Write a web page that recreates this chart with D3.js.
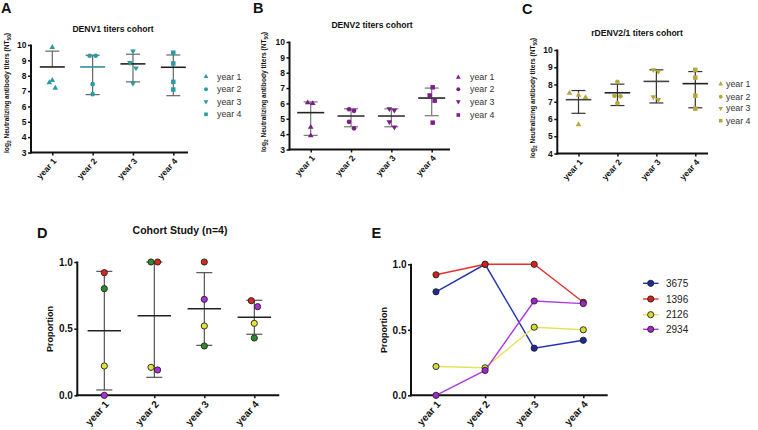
<!DOCTYPE html>
<html><head><meta charset="utf-8">
<script src="https://cdn.jsdelivr.net/npm/d3@7"></script>
<style>
html,body{margin:0;padding:0;background:#fff;}
svg{display:block;font-family:"Liberation Sans",Arial,Helvetica,sans-serif;}
</style></head>
<body><svg id="chart" width="758" height="430"></svg>
<script>
// ---------- data ----------
const years = ["year 1","year 2","year 3","year 4"];
const legendLabels = ["year 1","year 2","year 3","year 4"];

// Panel A: DENV1 (log2 NT50), points per year
const denv1Values = [[9.85,7.7,7.55,7.2],[9.3,9.3,7.45,6.8],[9.6,8.85,8.5,7.5],[9.5,8.8,7.6,7.1]];
const denv1Mean  = [8.57,8.57,8.77,8.55];
const denv1Upper = [9.6,9.33,9.4,9.35];
const denv1Lower = [8.57,6.77,7.6,6.7];

// Panel B: DENV2
const denv2Values = [[6.05,6.0,4.45,3.9],[5.62,5.52,4.8,4.38],[5.65,5.55,4.8,4.45],[7.05,6.52,6.18,4.75]];
const denv2Mean  = [5.4,5.18,5.18,6.35];
const denv2Upper = [6.1,5.65,5.65,7.0];
const denv2Lower = [3.92,4.48,4.48,5.2];

// Panel C: rDENV2/1
const rdenvValues = [[7.5,7.38,7.25,5.68],[8.15,7.35,7.32,6.92],[8.85,8.75,7.28,7.12],[8.85,8.4,7.35,6.6]];
const rdenvMean  = [7.12,7.52,8.18,8.05];
const rdenvUpper = [7.65,8.02,8.85,8.75];
const rdenvLower = [6.33,6.78,6.93,6.65];

// Panel D: cohort study proportions (per subject)
const subjects = ["3675","1396","2126","2934"];
const dProp3675 = [0.80,1.0,0.37,0.43];
const dProp1396 = [0.92,1.0,1.0,0.71];
const dProp2126 = [0.22,0.21,0.52,0.54];
const dProp2934 = [0.0,0.19,0.72,0.665];
const dMean  = [0.485,0.597,0.65,0.585];
const dUpper = [0.93,1.0,0.92,0.713];
const dLower = [0.04,0.135,0.375,0.458];

// Panel E: proportions by subject
const eProp3675 = [0.79,1.0,0.36,0.42];
const eProp1396 = [0.92,1.0,1.0,0.71];
const eProp2126 = [0.22,0.21,0.52,0.50];
const eProp2934 = [0.0,0.19,0.72,0.70];

// ---------- drawing ----------
const svg = d3.select("#chart");
const FONT = '"Liberation Sans",Arial,Helvetica,sans-serif';

function panelLetter(t,x,y){
  svg.append("text").attr("x",x).attr("y",y).attr("font-size",14.5).attr("font-weight","bold").attr("fill","#111").text(t);
}

const symbols = [
  {type:d3.symbolTriangle, rot:0, size:14, lsize:10},
  {type:d3.symbolCircle, rot:0, size:17, lsize:12},
  {type:d3.symbolTriangle, rot:180, size:14, lsize:10},
  {type:d3.symbolSquare, rot:0, size:20, lsize:13}
];

function yTitleLog(x, cy){
  const t = svg.append("text").attr("transform",`translate(${x},${cy}) rotate(-90)`)
    .attr("text-anchor","middle").attr("font-size",7).attr("font-weight","bold").attr("fill","#111")
    .attr("textLength",120).attr("lengthAdjust","spacingAndGlyphs");
  t.append("tspan").text("log");
  t.append("tspan").attr("font-size",5).attr("dy",2).text("2");
  t.append("tspan").attr("dy",-2).text(" Neutralizing antibody titers (NT");
  t.append("tspan").attr("font-size",5).attr("dy",2).text("50");
  t.append("tspan").attr("dy",-2).text(")");
}

function drawAxes(g, cfg, x, y, yTicks, yFmt, yFont, xFont){
  const ya = d3.axisLeft(y).tickValues(yTicks).tickSize(3).tickPadding(1.5).tickFormat(yFmt);
  const yg = g.append("g").attr("transform",`translate(${cfg.x0},0)`).call(ya);
  yg.select(".domain").remove();
  yg.selectAll(".tick line").attr("stroke","#111").attr("stroke-width",1.5);
  yg.selectAll(".tick text").attr("font-size",yFont).attr("font-weight","bold").attr("fill","#111").attr("font-family",FONT);
  g.append("line").attr("x1",cfg.x0).attr("x2",cfg.x0).attr("y1",y.range()[1]-0.5).attr("y2",y.range()[0]+1)
    .attr("stroke","#111").attr("stroke-width",2);
  g.append("line").attr("x1",cfg.x0-1).attr("x2",cfg.x1).attr("y1",y.range()[0]).attr("y2",y.range()[0])
    .attr("stroke","#111").attr("stroke-width",2);
  const xa = d3.axisBottom(x).tickSize(3).tickSizeOuter(0).tickFormat("");
  const xg = g.append("g").attr("transform",`translate(0,${y.range()[0]})`).call(xa);
  xg.select(".domain").remove();
  xg.selectAll(".tick line").attr("stroke","#111").attr("stroke-width",1.5);
  years.forEach(d=>{
    g.append("text").attr("transform",`translate(${x(d)+2.5},${y.range()[0]+7}) rotate(-48)`)
      .attr("text-anchor","end").attr("dy","0.35em").attr("font-size",xFont).attr("font-weight","bold").attr("fill","#111").text(d);
  });
}

function drawScatter(cfg){
  const g = svg.append("g");
  const x = d3.scalePoint().domain(years).range([cfg.c0,cfg.c1]);
  const y = d3.scaleLinear().domain(cfg.yDomain).range([cfg.yb,cfg.yt]);
  drawAxes(g,cfg,x,y,d3.range(cfg.yDomain[0],cfg.yDomain[1]+1),d3.format("d"),8.5,8.5);
  years.forEach((yr,i)=>{
    const cx = x(yr);
    g.append("line").attr("x1",cx).attr("x2",cx).attr("y1",y(cfg.upper[i])).attr("y2",y(cfg.lower[i]))
      .attr("stroke",cfg.whisker).attr("stroke-width",1.2);
    [cfg.upper[i],cfg.lower[i]].forEach(v=>{
      if (v===cfg.mean[i]) return;
      g.append("line").attr("x1",cx-cfg.capW).attr("x2",cx+cfg.capW).attr("y1",y(v)).attr("y2",y(v))
        .attr("stroke",cfg.whisker).attr("stroke-width",1.2);
    });
    g.append("line").attr("x1",cx-cfg.meanW).attr("x2",cx+cfg.meanW).attr("y1",y(cfg.mean[i])).attr("y2",y(cfg.mean[i]))
      .attr("stroke",cfg.meanColors[i]).attr("stroke-width",1.6);
  });
  years.forEach((yr,i)=>{
    const s = symbols[i];
    cfg.values[i].forEach((v,j)=>{
      g.append("path").attr("d",d3.symbol().type(s.type).size(s.size)())
        .attr("transform",`translate(${x(yr)+cfg.jitter[i][j]},${y(v)}) rotate(${s.rot})`)
        .attr("fill",cfg.color);
    });
  });
  legendLabels.forEach((lab,i)=>{
    const s = symbols[i];
    const ly = cfg.legY[i];
    g.append("path").attr("d",d3.symbol().type(s.type).size(s.lsize)())
      .attr("transform",`translate(${cfg.legX},${ly}) rotate(${s.rot})`).attr("fill",cfg.color);
    g.append("text").attr("x",cfg.legTX).attr("y",ly).attr("dy","0.35em").attr("font-size",8.8)
      .attr("fill","#333").text(lab);
  });
  g.append("text").attr("x",cfg.titleX).attr("y",cfg.titleY).attr("text-anchor","middle")
    .attr("font-size",8.6).attr("font-weight","bold").attr("fill","#111").text(cfg.title);
  yTitleLog(cfg.ytX, cfg.ytY);
}

panelLetter("A",1,12.5);
drawScatter({x0:31,x1:188,c0:52.3,c1:173.3,yt:45,yb:152.5,yDomain:[3,10],
  values:denv1Values,mean:denv1Mean,upper:denv1Upper,lower:denv1Lower,
  jitter:[[0,0,-3,3],[-3,3,0,0],[0,-3,3,0],[0,0,0,0]],
  color:"#2a9ba3",whisker:"#666",meanColors:["#222","#2d8ea3","#222","#222"],capW:7,meanW:12.5,
  legX:206,legTX:217,legY:[76.7,89.3,101.7,114.3],
  title:"DENV1 titers cohort",titleX:113,titleY:32,ytX:8.5,ytY:93});

panelLetter("B",253,12.5);
drawScatter({x0:289.5,x1:450,c0:310.7,c1:431.7,yt:42,yb:149.5,yDomain:[3,10],
  values:denv2Values,mean:denv2Mean,upper:denv2Upper,lower:denv2Lower,
  jitter:[[-3,2,0,0],[-2,3,-2,3],[-2,3,-2,3],[1,-2,3,1]],
  color:"#7c1d88",whisker:"#777",meanColors:["#222","#333","#333","#222"],capW:7,meanW:13.5,
  legX:458.3,legTX:470,legY:[77.3,89.3,101.7,115],
  title:"DENV2 titers cohort",titleX:372,titleY:28,ytX:266,ytY:92});

panelLetter("C",522,13.5);
drawScatter({x0:557.3,x1:708,c0:578.5,c1:695.3,yt:50,yb:153.5,yDomain:[4,10],
  values:rdenvValues,mean:rdenvMean,upper:rdenvUpper,lower:rdenvLower,
  jitter:[[-9,0,7,0],[0,-3,3,0],[-3,2,-3,2],[0,0,0,0]],
  color:"#b4a83a",whisker:"#333",meanColors:["#444","#222","#444","#222"],capW:7,meanW:12.8,
  legX:720.7,legTX:726,legY:[84,96.7,108.3,120.7],
  title:"rDENV2/1 titers cohort",titleX:637,titleY:36,ytX:535,ytY:98});

// ---------- Panel D ----------
(function(){
  const cfg = {x0:77.3,x1:279.3,c0:104.3,c1:254.3,yt:262,yb:395.3};
  const g = svg.append("g");
  const x = d3.scalePoint().domain(years).range([cfg.c0,cfg.c1]);
  const y = d3.scaleLinear().domain([0,1]).range([cfg.yb,cfg.yt]);
  drawAxes(g,cfg,x,y,[0,0.5,1],d3.format(".1f"),10,10);
  years.forEach((yr,i)=>{
    const cx = x(yr);
    g.append("line").attr("x1",cx).attr("x2",cx).attr("y1",y(dUpper[i])).attr("y2",y(dLower[i]))
      .attr("stroke","#444").attr("stroke-width",1.1);
    [dUpper[i],dLower[i]].forEach(v=>{
      g.append("line").attr("x1",cx-8).attr("x2",cx+8).attr("y1",y(v)).attr("y2",y(v))
        .attr("stroke","#444").attr("stroke-width",1.1);
    });
    g.append("line").attr("x1",cx-16.7).attr("x2",cx+16.7).attr("y1",y(dMean[i])).attr("y2",y(dMean[i]))
      .attr("stroke","#222").attr("stroke-width",1.5);
  });
  const series = [
    {vals:dProp3675,color:"#2f8a2f",jit:[0,-3.3,0,0]},
    {vals:dProp1396,color:"#d8281e",jit:[0,3.3,0,-3]},
    {vals:dProp2126,color:"#e4e43a",jit:[0,-3.3,0,0]},
    {vals:dProp2934,color:"#b030d8",jit:[0,3.3,0,3.3]}
  ];
  series.forEach(s=>{
    s.vals.forEach((v,i)=>{
      g.append("circle").attr("cx",x(years[i])+s.jit[i]).attr("cy",y(v)).attr("r",3.1)
        .attr("fill",s.color).attr("stroke","#222").attr("stroke-width",0.9);
    });
  });
  g.append("text").attr("x",180).attr("y",233.5).attr("text-anchor","middle").attr("font-size",10.5)
    .attr("font-weight","bold").attr("fill","#111").text("Cohort Study (n=4)");
  g.append("text").attr("transform",`translate(52.5,329) rotate(-90)`).attr("text-anchor","middle")
    .attr("font-size",9).attr("font-weight","bold").attr("fill","#111").text("Proportion");
})();
panelLetter("D",37,238);

// ---------- Panel E ----------
(function(){
  const cfg = {x0:411,x1:607.7,c0:436,c1:583.3,yt:264.3,yb:395.3};
  const g = svg.append("g");
  const x = d3.scalePoint().domain(years).range([cfg.c0,cfg.c1]);
  const y = d3.scaleLinear().domain([0,1]).range([cfg.yb,cfg.yt]);
  drawAxes(g,cfg,x,y,[0,0.5,1],d3.format(".1f"),10,10);
  const series = [
    {name:subjects[0],vals:eProp3675,line:"#2433b0",fill:"#1c2a9a"},
    {name:subjects[1],vals:eProp1396,line:"#e8302a",fill:"#d8201a"},
    {name:subjects[2],vals:eProp2126,line:"#e4e45a",fill:"#d8d83a"},
    {name:subjects[3],vals:eProp2934,line:"#b03ae0",fill:"#a226d0"}
  ];
  const line = d3.line().x((d,i)=>x(years[i])).y(d=>y(d));
  series.forEach(s=>{
    g.append("path").datum(s.vals).attr("d",line).attr("fill","none").attr("stroke",s.line).attr("stroke-width",1.4);
  });
  series.forEach(s=>{
    s.vals.forEach((v,i)=>{
      g.append("circle").attr("cx",x(years[i])).attr("cy",y(v)).attr("r",3.1)
        .attr("fill",s.fill).attr("stroke","#222").attr("stroke-width",0.9);
    });
  });
  const legY = [283.3,299,314.7,329.3];
  series.forEach((s,i)=>{
    g.append("line").attr("x1",643).attr("x2",658.5).attr("y1",legY[i]).attr("y2",legY[i])
      .attr("stroke",s.line).attr("stroke-width",1.4);
    g.append("circle").attr("cx",650.7).attr("cy",legY[i]).attr("r",3.1)
      .attr("fill",s.fill).attr("stroke","#222").attr("stroke-width",0.9);
    g.append("text").attr("x",666).attr("y",legY[i]).attr("dy","0.36em").attr("font-size",10)
      .attr("fill","#222").text(s.name);
  });
  g.append("text").attr("transform",`translate(387,330) rotate(-90)`).attr("text-anchor","middle")
    .attr("font-size",9).attr("font-weight","bold").attr("fill","#111").text("Proportion");
})();
panelLetter("E",371.5,238);
</script></body></html>
